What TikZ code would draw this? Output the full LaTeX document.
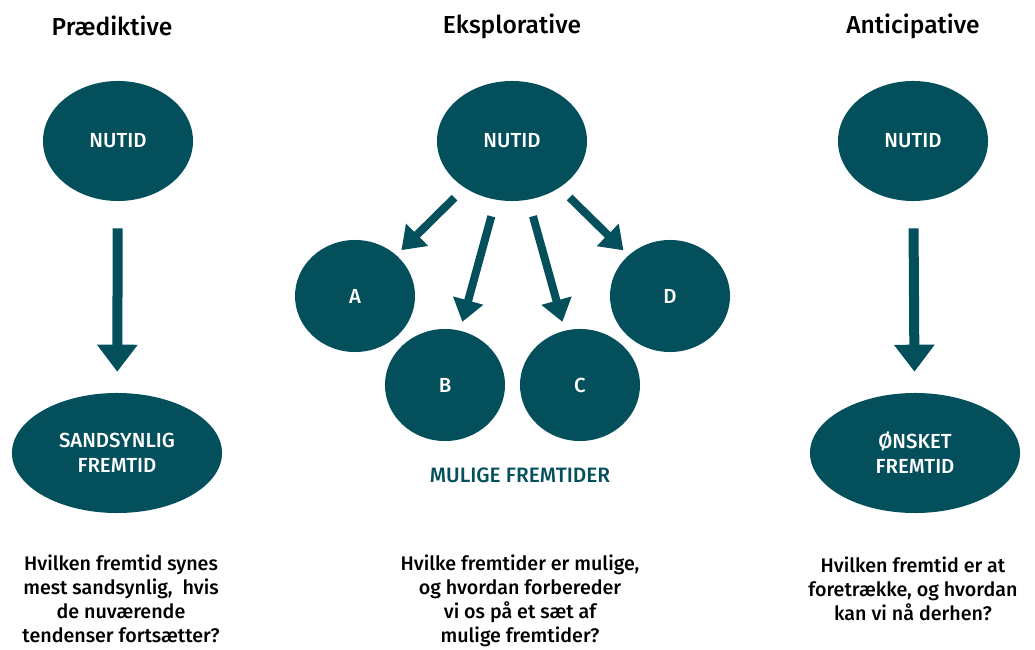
\documentclass[tikz,border=0pt]{standalone}
\usepackage{fontspec}
\setmainfont{Fira Sans}[BoldFont={Fira Sans Medium}]
\usetikzlibrary{arrows.meta,shapes.geometric}
\definecolor{petrol}{HTML}{034F5C}

\begin{document}
\begin{tikzpicture}[x=0.025cm,y=-0.025cm,
  blob/.style={ellipse,fill=petrol,text=white,inner sep=0pt,align=center,
    font=\bfseries\fontsize{14.5}{17.8}\selectfont},
  nu/.style={blob,minimum width=3.75cm,minimum height=3cm},
  futur/.style={blob,minimum width=5.25cm,minimum height=3cm},
  alt/.style={blob,minimum width=3cm,minimum height=2.8cm},
  title/.style={font=\bfseries\fontsize{17.5}{20}\selectfont},
  question/.style={align=center,font=\bfseries\fontsize{14}{17}\selectfont},
  fat/.style={petrol,line width=0.25cm,-{Triangle[width=0.975cm,length=0.675cm]}},
  slim/.style={petrol,line width=0.2cm,-{Triangle[width=0.75cm,length=0.55cm]}}]
  \useasboundingbox (0,0) rectangle (1035,650);
  % praediktive
  \node[title] (tp) at (112,26) {Prædiktive};
  \node[nu] (nup) at (118,141) {NUTID};
  \node[futur] (sand) at (117,453) {SANDSYNLIG\\FREMTID};
  \draw[fat,shorten <=0.675cm,shorten >=0.525cm] (nup) -- (sand);
  \node[question] (qp) at (121,599) {Hvilken fremtid synes\\mest sandsynlig,~ hvis\\de nuværende\\tendenser fortsætter?};
  % eksplorative
  \node[title] (te) at (512,26) {Eksplorative};
  \node[nu] (nue) at (512,141) {NUTID};
  \node[alt] (a) at (355,296) {A};
  \node[alt] (b) at (445,385) {B};
  \node[alt] (c) at (580,385) {C};
  \node[alt] (d) at (670,296) {D};
  \draw[slim,shorten <=0.35cm,shorten >=0.175cm] (nue) -- (a);
  \draw[slim,shorten <=0.425cm,shorten >=0.225cm] (nue) -- (b);
  \draw[slim,shorten <=0.425cm,shorten >=0.225cm] (nue) -- (c);
  \draw[slim,shorten <=0.35cm,shorten >=0.175cm] (nue) -- (d);
  \node[text=petrol,font=\bfseries\fontsize{14.8}{17}\selectfont] (mf) at (520,475) {MULIGE FREMTIDER};
  \node[question] (qe) at (520,601) {Hvilke fremtider er mulige,\\og hvordan forbereder\\vi os på et sæt af\\mulige fremtider?};
  % anticipative
  \node[title] (ta) at (913,26) {Anticipative};
  \node[nu] (nua) at (913,141) {NUTID};
  \node[futur] (onsk) at (915,453) {ØNSKET\\FREMTID};
  \draw[fat,shorten <=0.675cm,shorten >=0.525cm] (nua) -- (onsk);
  \node[question] (qa) at (913,589) {Hvilken fremtid er at\\foretrække, og hvordan\\kan vi nå derhen?};
\end{tikzpicture}
\end{document}
